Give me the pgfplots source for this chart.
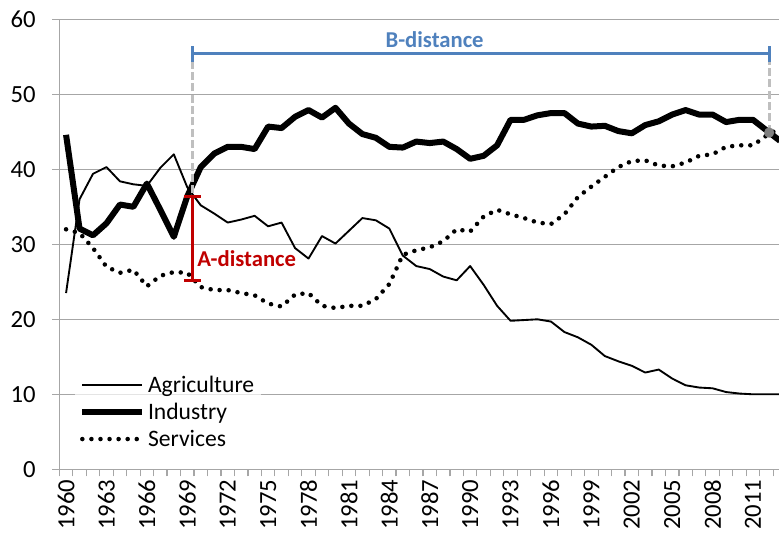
\documentclass[border=0pt]{standalone}
\usepackage{fontspec}
\setmainfont{Carlito}
\usepackage{pgfplots}
\usepackage{pgfplotstable}
\pgfplotsset{compat=1.18}
\definecolor{gridgray}{HTML}{A6A6A6}
\definecolor{bblue}{HTML}{4F81BD}
\definecolor{ared}{HTML}{C00000}
\definecolor{dashgray}{HTML}{BFBFBF}
\definecolor{dotgray}{HTML}{808080}

\pgfplotstableread{
year agri ind serv
1960 23.5 44.6 32.0
1961 36.0 32.1 31.5
1962 39.4 31.2 29.5
1963 40.3 32.8 27.0
1964 38.4 35.3 26.2
1965 38.0 35.0 26.6
1966 37.8 38.1 24.4
1967 40.2 34.6 25.8
1968 42.0 31.0 26.3
1969 37.6 36.4 26.2
1970 35.2 40.3 24.3
1971 34.1 42.1 23.9
1972 32.9 43.0 23.9
1973 33.3 43.0 23.5
1974 33.8 42.7 23.2
1975 32.4 45.7 22.1
1976 32.9 45.5 21.7
1977 29.5 47.0 23.3
1978 28.1 47.9 23.5
1979 31.1 46.9 21.8
1980 30.1 48.2 21.5
1981 31.8 46.1 21.8
1982 33.5 44.7 21.8
1983 33.2 44.2 22.7
1984 32.1 43.0 24.7
1985 28.5 42.9 28.6
1986 27.1 43.7 29.2
1987 26.7 43.5 29.6
1988 25.7 43.7 30.4
1989 25.2 42.7 32.0
1990 27.1 41.4 31.7
1991 24.6 41.8 33.7
1992 21.8 43.2 34.6
1993 19.8 46.6 34.0
1994 19.9 46.6 33.5
1995 20.0 47.2 32.9
1996 19.7 47.5 32.7
1997 18.3 47.5 34.0
1998 17.6 46.1 36.3
1999 16.6 45.7 37.7
2000 15.1 45.8 39.0
2001 14.4 45.1 40.3
2002 13.8 44.8 41.1
2003 12.9 45.9 41.2
2004 13.3 46.4 40.5
2005 12.1 47.3 40.4
2006 11.2 47.9 40.9
2007 10.9 47.3 41.8
2008 10.8 47.3 42.0
2009 10.3 46.3 43.0
2010 10.1 46.6 43.2
2011 10.0 46.6 43.2
2012 10.0 45.2 44.5
2013 10.0 43.8 45.5
}\sectors

\begin{document}
\begin{tikzpicture}
\begin{axis}[
  scale only axis, width=539.8pt, height=337.5pt,
  xmin=1959.5, xmax=2012.93, ymin=0, ymax=60,
  axis x line*=bottom, axis y line*=left,
  axis line style={gridgray, line width=1pt},
  ytick={0,10,...,60}, ymajorgrids,
  grid style={gridgray, line width=0.9pt},
  xtick={1960,1963,...,2011},
  minor xtick={1959.5,1960.5,...,2012.5},
  major x tick style={draw=none},
  minor x tick style={gridgray, line width=0.9pt},
  major y tick style={gridgray, line width=0.9pt},
  minor tick length=5.25pt, major tick length=5.25pt,
  tick align=outside,
  /pgf/number format/assume math mode=true,
  /pgf/number format/1000 sep={},
  tick label style={font=\fontsize{18.5}{22}\selectfont},
  x tick label style={rotate=90, anchor=east, inner sep=0pt},
  xticklabel shift=2.5pt,
  y tick label style={anchor=east, inner sep=0pt},
  yticklabel shift=12.25pt,
  legend style={at={(axis cs:1960.67,7.64)}, anchor=west, draw=none,
    fill=white, fill opacity=0.7, text opacity=1,
    font=\fontsize{17.7}{21}\selectfont, row sep=2.5pt,
    inner xsep=3pt, inner ysep=2pt},
  legend cell align=left,
  legend image code/.code={\draw[#1] (0pt,0pt) -- (45pt,0pt);},
]
\addplot[black, line width=1.4pt, line join=round] table[x=year, y=agri] {\sectors};
\addlegendentry{Agriculture}
\addplot[black, line width=4.5pt, line join=round] table[x=year, y=ind] {\sectors};
\addlegendentry{Industry}
\addplot[black, line width=3.4pt, line cap=round, dash pattern=on 0pt off 6.8pt] table[x=year, y=serv] {\sectors};
\addlegendentry{Services}

% annotations
\addplot[dashgray, line width=2.2pt, dash pattern=on 6pt off 2.5pt, forget plot] coordinates {(1969.4,36.8) (1969.4,55.4)};
\addplot[dashgray, line width=2.2pt, dash pattern=on 6pt off 2.5pt, forget plot] coordinates {(2012.2,44.9) (2012.2,55.4)};
\addplot[bblue, line width=2.3pt, forget plot] coordinates {(1969.4,55.4) (2012.2,55.4)};
\addplot[bblue, line width=2.3pt, forget plot] coordinates {(1969.4,54.3) (1969.4,56.5)};
\addplot[bblue, line width=2.3pt, forget plot] coordinates {(2012.2,54.3) (2012.2,56.5)};
\addplot[ared, line width=2.3pt, forget plot] coordinates {(1969.4,36.4) (1969.4,25.2)};
\addplot[ared, line width=2.3pt, forget plot] coordinates {(1968.78,36.4) (1970.02,36.4)};
\addplot[ared, line width=2.3pt, forget plot] coordinates {(1968.78,25.2) (1970.02,25.2)};
\addplot[only marks, mark=*, mark size=3.6pt, dotgray, forget plot] coordinates {(2012.2,44.9)};
\node[text=bblue, font=\bfseries\fontsize{17}{20}\selectfont] at (axis cs:1987.36,57.24) {B-distance};
\node[text=ared, anchor=west, inner sep=0pt, font=\bfseries\fontsize{17}{20}\selectfont] at (axis cs:1969.72,28.1) {A-distance};
\end{axis}
\pgfresetboundingbox
\path (current axis.south west) ++(-44.5pt,-50pt) coordinate (bbA);
\path (current axis.north east) ++(0pt,14.5pt) coordinate (bbB);
\path[use as bounding box] (bbA) rectangle (bbB);
\end{tikzpicture}
\end{document}
